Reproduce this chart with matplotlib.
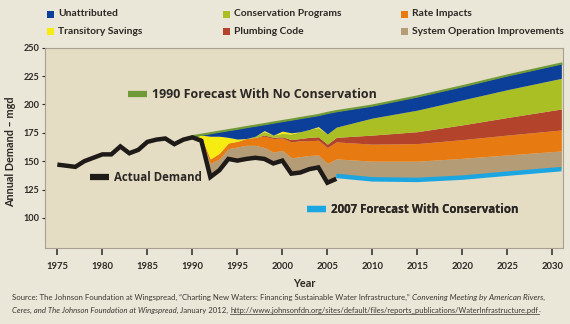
"""Annual water demand: actual use, 1990 and 2007 forecasts, and savings by source."""

import matplotlib

matplotlib.use("Agg")
import matplotlib.pyplot as plt
import numpy as np
from matplotlib.lines import Line2D
from matplotlib.patches import Rectangle

OUTPUT_PATH = "out.png"
FIG_W, FIG_H, DPI = 570, 324, 100

FONT = ["Lato", "DejaVu Sans"]
LABEL_FONT = ["Open Sans", "DejaVu Sans"]
INK = "#2b2724"
FIG_BG = "#ebe7d8"
AX_BG = "#e5dcc4"

# actual demand, mgd
ACTUAL_YEARS = list(range(1975, 2007))
ACTUAL_DEMAND = [147, 146, 145, 150, 153, 156, 156, 163, 157, 160,
                 167, 169, 170, 165, 169, 171, 168, 136, 142, 152,
                 150.5, 152, 153, 152, 148, 150.5, 139, 140, 143, 144.5,
                 131, 134.5]

# 2007 forecast with conservation
CONS_YEARS = [2006, 2010, 2015, 2020, 2025, 2031]
CONS_FORECAST = [137, 134, 133.5, 135.5, 139, 143]

# savings bands, stacked above actual demand / 2007 forecast
STACK_YEARS = [1990, 1991, 1992, 1993, 1994, 1995, 1996, 1997, 1998, 1999,
               2000, 2001, 2002, 2003, 2004, 2005, 2006,
               2010, 2015, 2020, 2025, 2031]
NO_CONS_FORECAST = [172, 173.3, 174.6, 176, 177.3, 178.6, 180, 181.3, 182.6, 184,
                    185.3, 186.6, 188, 189.3, 190.6, 192.5, 194,
                    199, 207, 216, 225.5, 236]
SYSTEM_OPS = [0, 2, 12, 10, 9, 12, 12, 11, 10, 10,
              9, 14, 14, 12, 11, 17, 15,
              16, 16.5, 17, 16.5, 16]
RATE_IMPACTS = [0, 1, 4, 5, 5, 5, 6, 7, 10, 12,
                11, 14, 14, 13, 13, 14, 15,
                15, 15.5, 16.5, 17.5, 18.5]
PLUMBING_CODE = [0, 0, 0, 0, 0, 0, 0, 0, 1, 1,
                 1, 2, 2, 3, 3, 3, 4,
                 8, 10.5, 13, 15.5, 18.5]
CONSERVATION = [0, 0, 0, 0, 0, 0, 0, 1, 3, 2,
                3, 5, 6, 7, 8, 9, 9,
                15, 19, 22, 24.5, 27]
TRANSITORY = [0, 2, 20, 15, 5, 2, 0, 0, 1, 0,
              2, 1, 0, 0, 1, 0, 0,
              0, 0, 0, 0, 0]

BAND_COLORS = ["#b39c76", "#e77b12", "#b4432b", "#a9bf24", "#f7ec12"]
UNATTRIBUTED_COLOR = "#0c3f9a"

LEGEND_ROWS = [
    [("Unattributed", UNATTRIBUTED_COLOR), ("Conservation Programs", "#a9bf24"),
     ("Rate Impacts", "#e77b12")],
    [("Transitory Savings", "#f7ec12"), ("Plumbing Code", "#b4432b"),
     ("System Operation Improvements", "#b39c76")],
]

X_TICKS = list(range(1975, 2031, 5))
Y_TICKS = list(range(100, 251, 25))

# (text, style, underline, size)
SOURCE_LINES = [
    [("Source: The Johnson Foundation at Wingspread, \u201cCharting New Waters: Financing "
      "Sustainable Water Infrastructure,\u201d ", "normal", False, 5.6),
     ("Convening Meeting by American Rivers,", "italic", False, 5.9)],
    [("Ceres, and The Johnson Foundation at Wingspread,", "italic", False, 5.6),
     (" January 2012, ", "normal", False, 5.6),
     ("http://www.johnsonfdn.org/sites/default/files/reports_publications/"
      "WaterInfrastructure.pdf", "normal", True, 5.4),
     (".", "normal", False, 5.6)],
]


def fx(px):
    return px / FIG_W


def fy(py):
    return 1 - py / FIG_H


def stack_base():
    base = []
    for year in STACK_YEARS:
        if year < CONS_YEARS[0]:
            base.append(ACTUAL_DEMAND[ACTUAL_YEARS.index(year)])
        else:
            base.append(CONS_FORECAST[CONS_YEARS.index(year)])
    return np.array(base, dtype=float)


def draw_top_legend(fig):
    col_x = [47, 223, 401]
    row_y = [14, 31]
    size = 7
    for r, row in enumerate(LEGEND_ROWS):
        for c, (label, color) in enumerate(row):
            x, y = col_x[c], row_y[r]
            fig.add_artist(Rectangle((fx(x), fy(y + size / 2)), size / FIG_W, size / FIG_H,
                                     transform=fig.transFigure, facecolor=color,
                                     edgecolor="none"))
            fig.text(fx(x + 11), fy(y), label, fontsize=7.4, fontweight="bold",
                     family=FONT, color=INK, va="center", ha="left")


def draw_source(fig):
    renderer = fig.canvas.get_renderer()
    for line_y, pieces in zip([297, 310], SOURCE_LINES):
        x = 12
        for text, style, underline, size in pieces:
            t = fig.text(fx(x), fy(line_y), text, fontsize=size, style=style,
                         family=FONT, color="#3a3631", va="center", ha="left")
            bb = t.get_window_extent(renderer)
            if underline:
                uy = fy(line_y + 4.4)
                fig.add_artist(Line2D([fx(bb.x0), fx(bb.x1)], [uy, uy],
                                      transform=fig.transFigure, color="#3a3631", lw=0.5))
            x = bb.x1


def series_label(ax, color, text, anchor, size):
    em = size * DPI / 72
    handle = Line2D([], [], color=color, lw=4.5, solid_capstyle="butt")
    leg = ax.legend([handle], [text], loc="center left", bbox_to_anchor=anchor,
                    frameon=False, handlelength=19 / em, handletextpad=5 / em,
                    borderpad=0, borderaxespad=0,
                    prop={"family": LABEL_FONT, "weight": "bold", "size": size})
    for t in leg.get_texts():
        t.set_color(INK)
    ax.add_artist(leg)


def main():
    fig = plt.figure(figsize=(FIG_W / DPI, FIG_H / DPI), dpi=DPI, facecolor=FIG_BG)
    ax = fig.add_axes([fx(45), fy(248), (562.7 - 45) / FIG_W, (248 - 47.7) / FIG_H])
    ax.set_facecolor(AX_BG)

    years = np.array(STACK_YEARS, dtype=float)
    lower = stack_base()
    for values, color in zip([SYSTEM_OPS, RATE_IMPACTS, PLUMBING_CODE, CONSERVATION, TRANSITORY],
                             BAND_COLORS):
        upper = lower + np.array(values, dtype=float)
        ax.fill_between(years, lower, upper, color=color, linewidth=0, zorder=2)
        lower = upper
    ax.fill_between(years, lower, NO_CONS_FORECAST, color=UNATTRIBUTED_COLOR,
                    linewidth=0, zorder=2)

    ax.plot(STACK_YEARS, NO_CONS_FORECAST, color="#6f9a37", lw=1.6, zorder=3)
    ax.plot(CONS_YEARS, CONS_FORECAST, color="#1ba6e2", lw=3.2, zorder=4,
            solid_capstyle="butt")
    ax.plot(ACTUAL_YEARS, ACTUAL_DEMAND, color="#1e1a17", lw=3.2, zorder=5,
            solid_joinstyle="miter", solid_capstyle="butt")

    ax.set_xlim(1973.63, 2031.15)
    ax.set_ylim(73.5, 250)
    ax.set_xticks(X_TICKS)
    ax.set_yticks(Y_TICKS)
    ax.tick_params(axis="x", length=4.8, width=1.1, pad=5, color=INK, labelsize=6.8,
                   labelcolor=INK)
    ax.tick_params(axis="y", length=2.2, width=0.8, pad=1.8, color=INK, labelsize=6.6,
                   labelcolor=INK)
    for lab in ax.get_xticklabels() + ax.get_yticklabels():
        lab.set_fontweight("bold")
        lab.set_family(FONT)

    ax.set_xlabel("Year", fontsize=7.8, fontweight="bold", family=FONT, color=INK)
    ax.xaxis.set_label_coords(0.5, -0.15)
    ax.set_ylabel("Annual Demand \u2013 mgd", fontsize=7.8, fontweight="bold",
                  family=FONT, color=INK)
    ax.yaxis.set_label_coords(-0.055, 0.48)

    for spine in ax.spines.values():
        spine.set_color("#a8a091")
        spine.set_linewidth(0.8)

    series_label(ax, "#6f9a37", "1990 Forecast With No Conservation", (0.160, 0.764), 9.0)
    series_label(ax, "#1e1a17", "Actual Demand", (0.0869, 0.353), 8.3)
    series_label(ax, "#1ba6e2", "2007 Forecast With Conservation", (0.5055, 0.19), 8.3)

    draw_top_legend(fig)
    draw_source(fig)

    fig.savefig(OUTPUT_PATH, dpi=DPI, facecolor=fig.get_facecolor())
    plt.close(fig)


if __name__ == "__main__":
    main()
